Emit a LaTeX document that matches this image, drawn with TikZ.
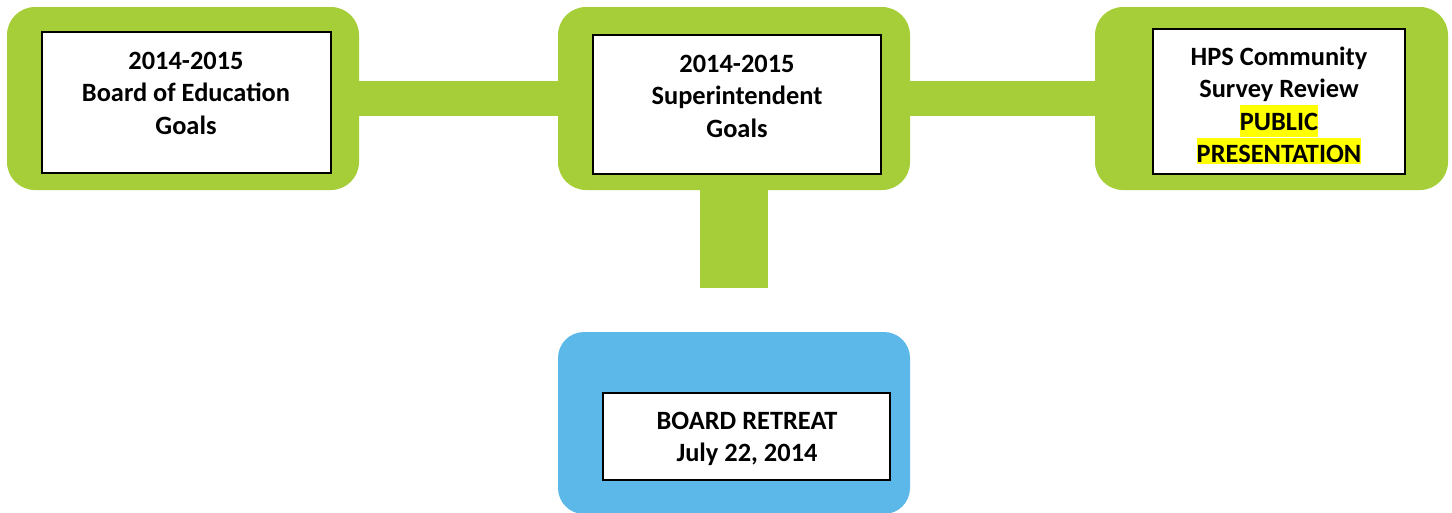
\documentclass[tikz,border=0pt]{standalone}
\usepackage{fontspec}
\setmainfont{Carlito}
\definecolor{pathgreen}{HTML}{A6CE39}
\definecolor{retreatblue}{HTML}{5BB8E8}
\definecolor{marker}{HTML}{FFFF00}
% yellow highlight behind a word, with explicit height and depth
\newcommand{\hilite}[3]{{\setlength{\fboxsep}{0pt}\colorbox{marker}{\vrule height #1pt depth #2pt width 0pt #3}}}
\tikzset{
  panel/.style={rounded corners=28pt, inner sep=0pt, minimum width=352pt, minimum height=183pt},
  greenpanel/.style={panel, fill=pathgreen},
  bluepanel/.style={panel, fill=retreatblue, rounded corners=26pt},
  card/.style={draw=black, fill=white, line width=1.5pt, inner sep=0pt},
  caption/.style={font=\bfseries\fontsize{26.4}{32.5}\selectfont, align=center, anchor=base, inner sep=0pt},
  bar/.style={draw=pathgreen, line width=35pt, shorten <=-3pt, shorten >=-3pt},
}
\begin{document}
\begin{tikzpicture}[x=1pt, y=-1pt]
  \useasboundingbox (0,0) rectangle (1452,512);

  % green panels along the top row
  \node[greenpanel] (board) at (183,98.5) {};
  \node[greenpanel] (super) at (734,98.5) {};
  \node[greenpanel, minimum width=353pt] (survey) at (1271.5,98.5) {};

  % blue panel below
  \node[bluepanel, minimum height=182pt] (retreat) at (734,423) {};

  % green bars joining the panels
  \draw[bar] (board.east) -- (super.west);
  \draw[bar] (super.east) -- (survey.west);
  \coordinate (stemend) at (734,288);
  \draw[bar, line width=68pt, shorten >=0pt] (super.south) -- (stemend);

  % white cards
  \node[card, minimum width=289pt, minimum height=141pt] (boardcard) at (186.5,102.5) {};
  \node[card, minimum width=288pt, minimum height=139pt] (supercard) at (737,104.5) {};
  \node[card, minimum width=252pt, minimum height=145pt] (surveycard) at (1279,101.5) {};
  \node[card, minimum width=287pt, minimum height=87pt] (retreatcard) at (746.5,436.5) {};

  % card texts (anchored at the baseline of the last line)
  \node[caption] (boardtext) at (186,134) {2014-2015\\Board of Education\\Goals};
  \node[caption] (supertext) at (737,137) {2014-2015\\Superintendent\\Goals};
  \node[caption] (surveytext) at (1279,162.5) {HPS Community\\Survey Review\\\hilite{25}{7}{PUBLIC}\\\hilite{25}{1}{PRESENTATION}};
  \node[caption] (retreattext) at (747,461.5) {BOARD RETREAT\\July 22, 2014};
\end{tikzpicture}
\end{document}
